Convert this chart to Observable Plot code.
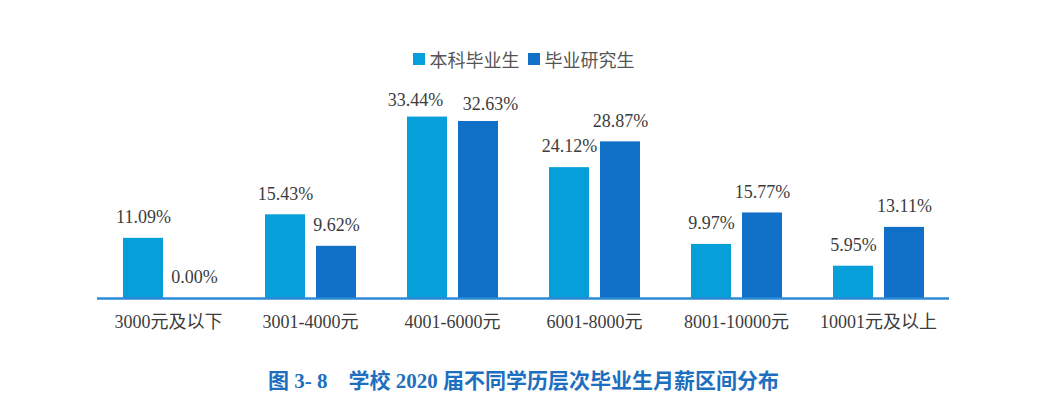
<!DOCTYPE html>
<html>
<head>
<meta charset="utf-8">
<script src="https://cdn.jsdelivr.net/npm/d3@7"></script>
<script src="https://cdn.jsdelivr.net/npm/@observablehq/plot@0.6"></script>
<style>
  html, body { margin: 0; padding: 0; background: #fff; width: 1047px; height: 397px; overflow: hidden; }
  #legend { position: absolute; left: 0; top: 47px; width: 1047px; height: 24px; display: flex; justify-content: center; align-items: center; font-family: "Noto Sans CJK SC", "Noto Sans", sans-serif; font-size: 18px; color: #555; }
  #legend .item { display: flex; align-items: center; margin: 0 4px; }
  #legend .sw { width: 12px; height: 12px; margin-right: 5px; }
  #chart { position: absolute; left: 0; top: 80px; }
  #caption { position: absolute; left: 0; top: 364px; width: 1047px; text-align: center; white-space: pre; font-family: "Liberation Serif", "Noto Sans CJK SC", serif; font-weight: bold; font-size: 21px; color: #1e6fc0; }
</style>
</head>
<body>
<div id="legend"></div>
<div id="chart"></div>
<div id="caption"></div>
<script>
const categories = ["3000元及以下", "3001-4000元", "4001-6000元", "6001-8000元", "8001-10000元", "10001元及以上"];
const seriesNames = ["本科毕业生", "毕业研究生"];
const undergrad = [11.09, 15.43, 33.44, 24.12, 9.97, 5.95];
const graduate = [0.00, 9.62, 32.63, 28.87, 15.77, 13.11];
const colors = ["#069fda", "#106fc6"];
const captionText = "图 3- 8    学校 2020 届不同学历层次毕业生月薪区间分布";

const data = [];
categories.forEach((c, i) => {
  const close = Math.abs(undergrad[i] - graduate[i]) < 3;
  data.push({cat: c, series: seriesNames[0], value: undergrad[i], close});
  data.push({cat: c, series: seriesNames[1], value: graduate[i], close});
});

const legend = document.getElementById("legend");
seriesNames.forEach((s, i) => {
  const it = document.createElement("div");
  it.className = "item";
  it.innerHTML = `<span class="sw" style="background:${colors[i]}"></span><span>${s}</span>`;
  legend.appendChild(it);
});
document.getElementById("caption").textContent = captionText;

const fmt = d => d.value.toFixed(2) + "%";
const textOpts = { fx: "cat", x: "series", y: "value", text: fmt, dy: -21, fill: "#3c3c3c", fontSize: 18 };

const chart = Plot.plot({
  width: 1047,
  height: 265,
  marginLeft: 97,
  marginRight: 98,
  marginTop: 1,
  marginBottom: 47,
  style: { fontFamily: "'Liberation Serif', 'Noto Sans CJK SC', serif", fontSize: "18px", color: "#3c3c3c", background: "transparent" },
  fx: { domain: categories, padding: 0, label: null, axis: "bottom", tickSize: 0, tickPadding: 17 },
  x: { domain: seriesNames, paddingInner: 0.217, paddingOuter: 0.474, axis: null },
  y: { domain: [0, 40], axis: null },
  color: { domain: seriesNames, range: colors },
  marks: [
    Plot.barY(data, { fx: "cat", x: "series", y: "value", fill: "series" }),
    Plot.text(data.filter(d => !d.close), textOpts),
    Plot.text(data.filter(d => d.close && d.series === seriesNames[0]), { ...textOpts, dx: -12, dy: -17 }),
    Plot.text(data.filter(d => d.close && d.series === seriesNames[1]), { ...textOpts, dx: 12, dy: -17 }),
    Plot.ruleY([0], { stroke: "#2c8ad6", strokeWidth: 2.5 })
  ]
});
document.getElementById("chart").appendChild(chart);
</script>
</body>
</html>
